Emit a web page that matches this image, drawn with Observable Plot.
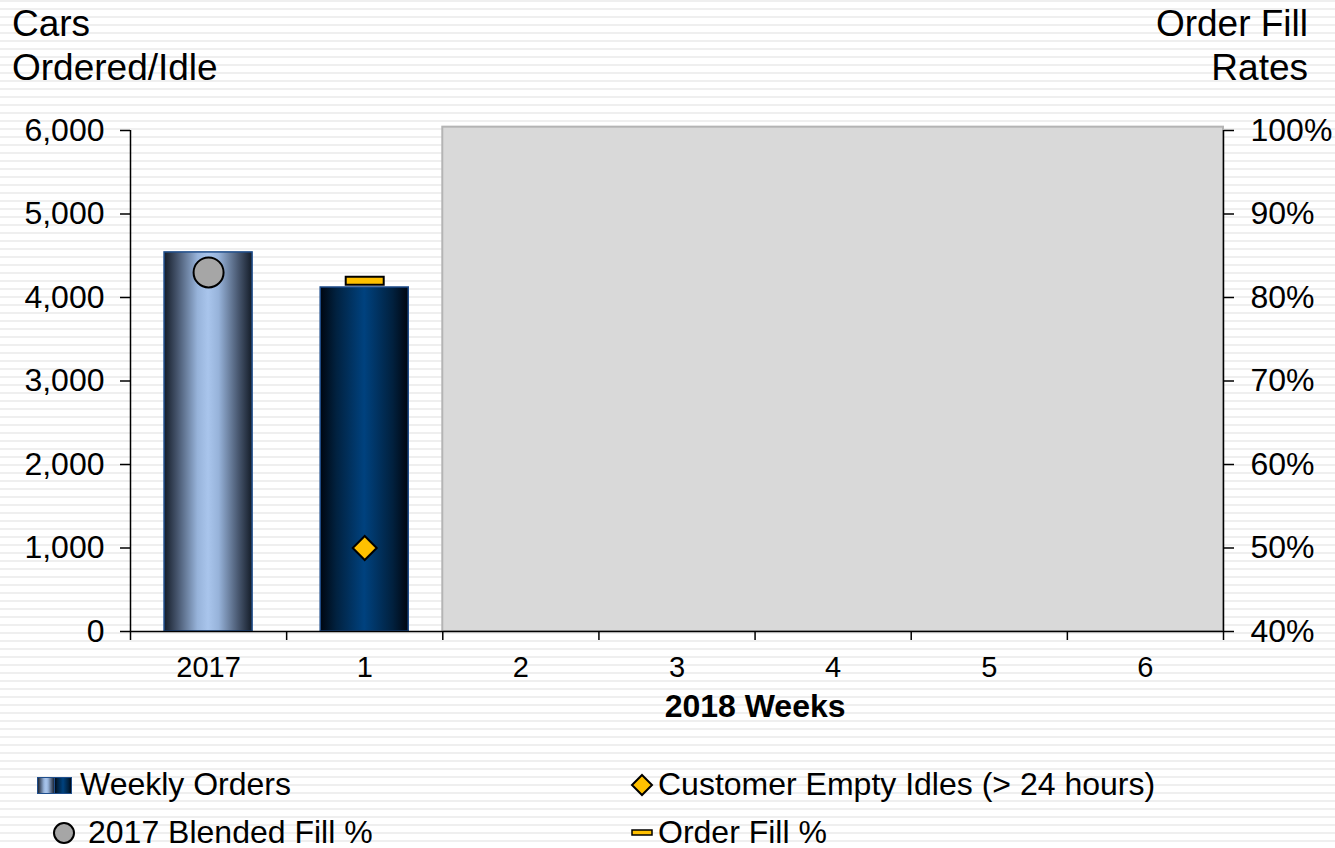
<!DOCTYPE html>
<html><head><meta charset="utf-8">
<script src="https://cdn.jsdelivr.net/npm/d3@7"></script>
<script src="https://cdn.jsdelivr.net/npm/@observablehq/plot@0.6"></script>
<style>
html,body{margin:0;padding:0;}
body{width:1335px;height:848px;overflow:hidden;font-family:"Liberation Sans",Arial,sans-serif;
  background:repeating-linear-gradient(to bottom,#efefef 0px,#efefef 2px,#ffffff 2px,#ffffff 8px);}
#wrap{position:relative;width:1335px;height:848px;}
.t{position:absolute;font-size:37px;line-height:44px;color:#000;white-space:nowrap;}
.lg{position:absolute;font-size:32px;line-height:36px;color:#000;white-space:nowrap;}
.ic{position:absolute;overflow:visible;}
</style></head><body><div id="wrap">
<div id="chart" style="position:absolute;left:0;top:0"></div>
<div class="t" style="left:12px;top:2px">Cars<br>Ordered/Idle</div>
<div class="t" style="right:27px;top:2px;text-align:right">Order Fill<br>Rates</div>
<div id="legend"></div>
</div>
<script>
// ---- data ----
const categories = ["2017", "1", "2", "3", "4", "5", "6"];
const weeklyOrders = [4540, 4120];          // cars ordered: 2017 avg, week 1
const blendedFill2017 = [83];               // % (right axis), 2017 only
const orderFillPct = [null, 82];            // % (right axis)
const customerEmptyIdles = [null, 1000];    // cars (left axis)
const futureWeeks = ["2", "3", "4", "5", "6"];
const futureWeeksTop = 6040;                // shaded placeholder height (left axis units)
const leftTicks = [0, 1000, 2000, 3000, 4000, 5000, 6000];
const rightTicks = [40, 50, 60, 70, 80, 90, 100];
const xTitle = "2018 Weeks";

// right axis (40%..100%) mapped onto left axis (0..6000)
const toLeft = p => (p - 40) * 100;
const barW = 0.564;

const bars = weeklyOrders.map((v, i) => ({i, v, cat: categories[i]}));
const blended = blendedFill2017.map((p, i) => ({i, p})).filter(d => d.p != null);
const fill = orderFillPct.map((p, i) => ({i, p})).filter(d => d.p != null);
const idles = customerEmptyIdles.map((v, i) => ({i, v})).filter(d => d.v != null);
const future = [{from: categories.indexOf(futureWeeks[0]), to: categories.indexOf(futureWeeks[futureWeeks.length - 1]) + 1, top: futureWeeksTop}];

const dashSymbol = {draw(ctx) { ctx.rect(-19, -4, 38, 8); }};
const n = categories.length;

const plot = Plot.plot({
  width: 1335, height: 720,
  marginLeft: 130, marginRight: 112, marginTop: 130, marginBottom: 89,
  style: {background: "transparent", fontFamily: "Liberation Sans, Arial, sans-serif", fontSize: "32px", color: "#000", overflow: "visible"},
  x: {domain: [0, n], label: null},
  y: {domain: [0, 6000], label: null},
  marks: [
    Plot.rect(future, {x1: "from", x2: "to", y1: 0, y2: "top", fill: "#d9d9d9", stroke: "#b4b4b4", strokeWidth: 2}),
    Plot.rectY(bars.filter(d => d.i === 0), {x1: d => d.i + 0.5 - barW / 2, x2: d => d.i + 0.5 + barW / 2, y: "v", fill: "url(#g2017)", stroke: "#1f4e8c", strokeWidth: 1.5}),
    Plot.rectY(bars.filter(d => d.i === 1), {x1: d => d.i + 0.5 - barW / 2, x2: d => d.i + 0.5 + barW / 2, y: "v", fill: "url(#gWeek)", stroke: "#1f4e8c", strokeWidth: 1.5}),
    Plot.axisY(leftTicks, {anchor: "left", label: null, tickSize: 10, tickPadding: 16, strokeWidth: 1.5, tickFormat: d3.format(",")}),
    Plot.axisY(rightTicks.map(toLeft), {anchor: "right", label: null, tickSize: 10, tickPadding: 17, strokeWidth: 1.5, tickFormat: d => `${40 + d / 100}%`}),
    Plot.axisX(d3.range(n + 1), {label: null, tickSize: 9, strokeWidth: 1.5, tickFormat: () => ""}),
    Plot.ruleX([0, n], {y1: 0, y2: 6000, stroke: "#000", strokeWidth: 1.5}),
    Plot.ruleY([0], {x1: 0, x2: n, stroke: "#000", strokeWidth: 1.5}),
    Plot.text(categories, {x: (d, i) => i + 0.5, frameAnchor: "bottom", lineAnchor: "middle", dy: 36, fontSize: 29}),
    Plot.text([xTitle], {x: () => (categories.indexOf("1") + n) / 2, frameAnchor: "bottom", lineAnchor: "middle", dy: 75, fontSize: 32, fontWeight: "bold"}),
    Plot.dot(blended, {x: d => d.i + 0.5, y: d => toLeft(d.p), r: 15, fill: "#a6a6a6", stroke: "#000", strokeWidth: 2}),
    Plot.dot(idles, {x: d => d.i + 0.5, y: "v", symbol: "diamond2", r: 10.8, fill: "#ffc000", stroke: "#000", strokeWidth: 2}),
    Plot.dot(fill, {x: d => d.i + 0.5, y: d => toLeft(d.p), symbol: dashSymbol, fill: "#ffc000", stroke: "#000", strokeWidth: 2})
  ]
});

function addGradients(svgSel) {
  const defs = svgSel.insert("defs", ":first-child");
  const mk = (id, stops) => {
    const g = defs.append("linearGradient").attr("id", id).attr("x1", "0").attr("x2", "1").attr("y1", "0").attr("y2", "0");
    stops.forEach(([o, c]) => g.append("stop").attr("offset", o).attr("stop-color", c));
  };
  mk("g2017", [[0, "#141c28"], [0.15, "#46556d"], [0.38, "#97b3da"], [0.5, "#a9c5ec"], [0.62, "#97b3da"], [0.85, "#46556d"], [1, "#141c28"]]);
  mk("gWeek", [[0, "#000610"], [0.18, "#01213f"], [0.5, "#00427f"], [0.82, "#01213f"], [1, "#000610"]]);
}
addGradients(d3.select(plot));
document.getElementById("chart").appendChild(plot);

// ---- legend ----
const lg = d3.select("#legend");
const items = [
  {label: "Weekly Orders", icon: "bar", ix: 37, iy: 777, tx: 80, ty: 766},
  {label: "Customer Empty Idles (> 24 hours)", icon: "diamond", ix: 631, iy: 774, tx: 658, ty: 766},
  {label: "2017 Blended Fill %", icon: "circle", ix: 52, iy: 821, tx: 88, ty: 814},
  {label: "Order Fill %", icon: "dash", ix: 631, iy: 829, tx: 658, ty: 814}
];
items.forEach(it => {
  const s = lg.append("svg").attr("class", "ic").style("left", it.ix + "px").style("top", it.iy + "px");
  if (it.icon === "bar") {
    s.attr("width", 35).attr("height", 17);
    addGradients(s);
    s.append("rect").attr("x", 0.5).attr("y", 0.5).attr("width", 17).attr("height", 16).attr("fill", "url(#g2017)").attr("stroke", "#1f4e8c");
    s.append("rect").attr("x", 17.5).attr("y", 0.5).attr("width", 17).attr("height", 16).attr("fill", "url(#gWeek)").attr("stroke", "#1f4e8c");
  } else if (it.icon === "diamond") {
    s.attr("width", 22).attr("height", 22);
    s.append("path").attr("d", "M11,1L21,11L11,21L1,11Z").attr("fill", "#ffc000").attr("stroke", "#000").attr("stroke-width", 2);
  } else if (it.icon === "circle") {
    s.attr("width", 24).attr("height", 24);
    s.append("circle").attr("cx", 12).attr("cy", 12).attr("r", 10).attr("fill", "#a6a6a6").attr("stroke", "#000").attr("stroke-width", 2);
  } else {
    s.attr("width", 22).attr("height", 8);
    s.append("rect").attr("x", 1).attr("y", 1).attr("width", 20).attr("height", 5).attr("fill", "#ffc000").attr("stroke", "#000").attr("stroke-width", 1.5);
  }
  lg.append("div").attr("class", "lg").style("left", it.tx + "px").style("top", it.ty + "px").text(it.label);
});
</script>
</body></html>
